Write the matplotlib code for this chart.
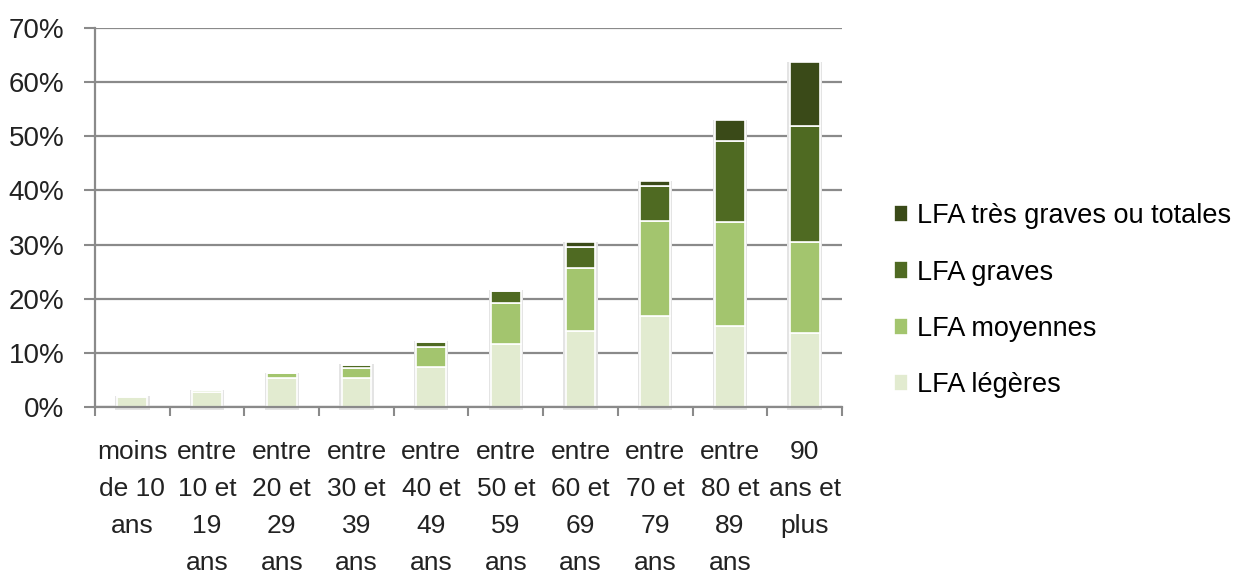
import numpy as np
import matplotlib.pyplot as plt

plt.rcParams['font.family'] = ['Liberation Sans', 'DejaVu Sans']

# tranches d'age
categories = ['moins\nde 10\nans', 'entre\n10 et\n19\nans', 'entre\n20 et\n29\nans',
              'entre\n30 et\n39\nans', 'entre\n40 et\n49\nans', 'entre\n50 et\n59\nans',
              'entre\n60 et\n69\nans', 'entre\n70 et\n79\nans', 'entre\n80 et\n89\nans',
              '90\nans et\nplus']

# valeurs en %
legeres      = [1.8, 2.8, 5.4, 5.4, 7.4, 11.6, 14.0, 16.8, 15.0, 13.6]
moyennes     = [0.2, 0.3, 0.9, 1.9, 3.7, 7.7, 11.6, 17.6, 19.1, 16.9]
graves       = [0.0, 0.0, 0.0, 0.5, 0.9, 2.1, 4.0, 6.5, 15.1, 21.4]
tres_graves  = [0.0, 0.0, 0.0, 0.1, 0.2, 0.2, 0.8, 0.8, 3.9, 11.9]

series = [('LFA légères', legeres, '#e2ebd0'),
          ('LFA moyennes', moyennes, '#a3c56e'),
          ('LFA graves', graves, '#4f6a22'),
          ('LFA très graves ou totales', tres_graves, '#3a4a18')]

fig = plt.figure(figsize=(12.47, 5.84), dpi=100)
ax = fig.add_axes([0.0762, 0.303, 0.599, 0.649])

x = np.arange(len(categories))
totals = np.sum([s[1] for s in series], axis=0)

# ombre legere autour des barres
ax.bar(x, totals + 0.5, 0.46, bottom=-0.5, color='#e4e4e4', zorder=2, clip_on=False)

bottom = np.zeros(len(categories))
handles = []
for name, vals, col in series:
    b = ax.bar(x, vals, 0.4, bottom=bottom, color=col, edgecolor='white', linewidth=1.2,
               label=name, zorder=3)
    handles.append(b)
    bottom += np.array(vals)

ax.set_xlim(-0.5, len(categories) - 0.5)
ax.set_ylim(0, 70)
ax.set_yticks(np.arange(0, 71, 10))
ax.set_yticklabels([f'{v}%' for v in range(0, 71, 10)], fontsize=20, color='#222222')
ax.yaxis.grid(True, color='#8a8a8a', linewidth=1.6, zorder=0)
ax.tick_params(axis='y', length=8, width=1.5, color='#8a8a8a', pad=14)

ax.set_xticks(x)
ax.set_xticklabels(categories, fontsize=19, color='#222222', linespacing=1.68)
ax.set_xticks(np.arange(-0.5, len(categories)), minor=True)
ax.tick_params(axis='x', which='major', length=0, pad=24)
ax.tick_params(axis='x', which='minor', length=6.5, width=1.5, color='#8a8a8a')

for s in ['top', 'right']:
    ax.spines[s].set_visible(False)
for s in ['left', 'bottom']:
    ax.spines[s].set_color('#8a8a8a')
    ax.spines[s].set_linewidth(1.6)
    ax.spines[s].set_zorder(4)

fig.legend(handles[::-1], [s[0] for s in series[::-1]], loc='center left',
           bbox_to_anchor=(0.697, 0.485), frameon=False, fontsize=19.5,
           handlelength=0.55, handleheight=0.6, handletextpad=0.3, labelspacing=1.12)

fig.savefig('out.png', dpi=100)
